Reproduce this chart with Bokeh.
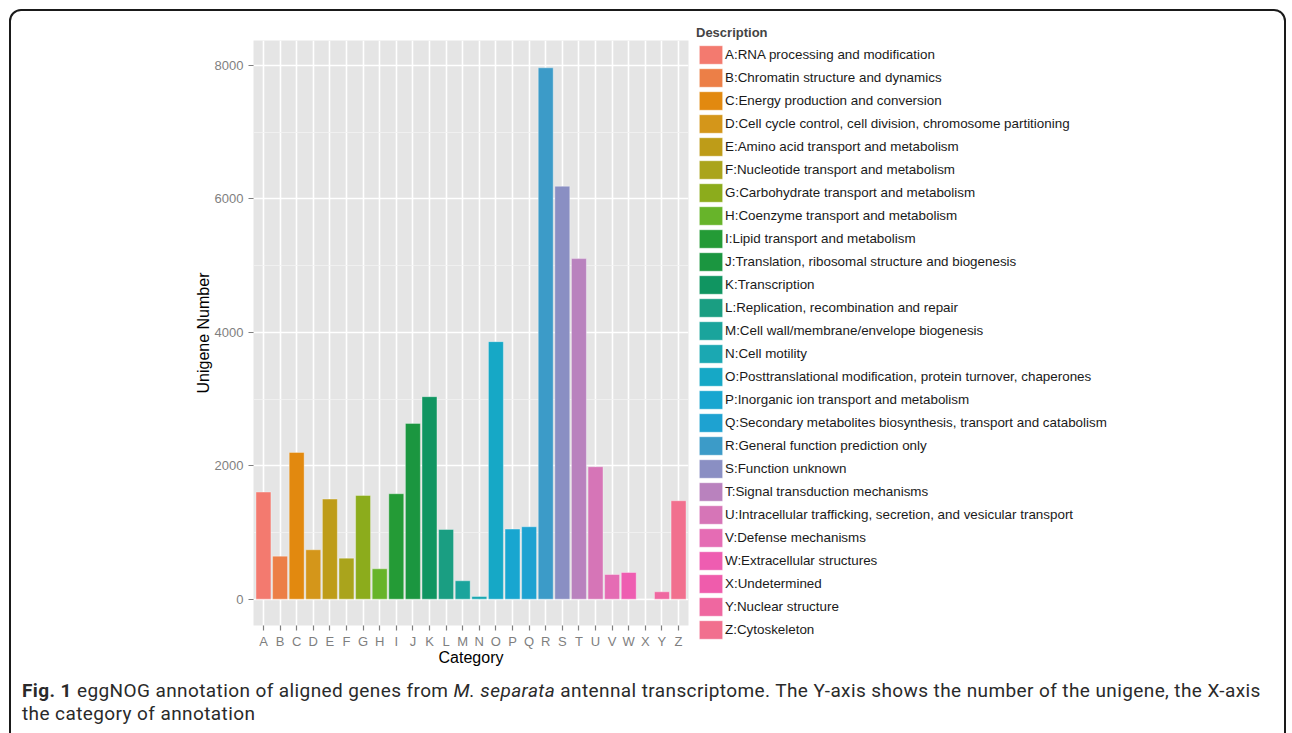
from bokeh.plotting import figure
from bokeh.models import (Range1d, FixedTicker, SingleIntervalTicker, ColumnDataSource,
                          Legend, LegendItem, Div)
from bokeh.layouts import column
from bokeh.embed import file_html
from bokeh.resources import INLINE

# ---------------- data ----------------
categories = list("ABCDEFGHIJKLMNOPQRSTUVWXYZ")
descriptions = [
    "RNA processing and modification",
    "Chromatin structure and dynamics",
    "Energy production and conversion",
    "Cell cycle control, cell division, chromosome partitioning",
    "Amino acid transport and metabolism",
    "Nucleotide transport and metabolism",
    "Carbohydrate transport and metabolism",
    "Coenzyme transport and metabolism",
    "Lipid transport and metabolism",
    "Translation, ribosomal structure and biogenesis",
    "Transcription",
    "Replication, recombination and repair",
    "Cell wall/membrane/envelope biogenesis",
    "Cell motility",
    "Posttranslational modification, protein turnover, chaperones",
    "Inorganic ion transport and metabolism",
    "Secondary metabolites biosynthesis, transport and catabolism",
    "General function prediction only",
    "Function unknown",
    "Signal transduction mechanisms",
    "Intracellular trafficking, secretion, and vesicular transport",
    "Defense mechanisms",
    "Extracellular structures",
    "Undetermined",
    "Nuclear structure",
    "Cytoskeleton",
]
counts = [1605, 645, 2200, 740, 1500, 615, 1555, 455, 1580, 2635, 3035, 1045, 275, 40,
          3860, 1050, 1085, 7965, 6190, 5105, 1985, 370, 400, 0, 110, 1475]

# palette as it appears in the printed figure
palette = ["#F37A6F", "#EC7F47", "#E2890F", "#D4961A", "#BE9C18", "#AAA41C", "#8CAC1C",
           "#67B42A", "#249B36", "#1B9640", "#109561", "#1A9E82", "#1AA49C", "#1BA8B2",
           "#16A8C6", "#18A6D0", "#1EA2D1", "#3C9BC8", "#8A8FC3", "#B982BE", "#D675B7",
           "#E56CB4", "#EE5DB1", "#EF5CAC", "#EF67A0", "#F1708E"]

n = len(categories)
xpos = list(range(1, n + 1))
labels = [f"{c}:{d}" for c, d in zip(categories, descriptions)]
src = ColumnDataSource(dict(x=xpos, top=counts, color=palette, label=labels))

FONT = "Liberation Sans"

# ---------------- main chart ----------------
p = figure(frame_width=435, frame_height=585, output_backend="svg", toolbar_location=None,
           x_range=Range1d(0.4, n + 0.6), y_range=Range1d(-395, 8375),
           min_border_left=242, min_border_right=5, min_border_top=29,
           min_border_bottom=51, background_fill_color="#E5E5E5",
           border_fill_color="white", outline_line_color=None)

r = p.vbar(x="x", top="top", bottom=0, width=0.9, source=src, fill_color="color",
           line_color="white", line_alpha=0.35, line_width=1)

p.xaxis.ticker = FixedTicker(ticks=xpos)
p.xaxis.major_label_overrides = {x: c for x, c in zip(xpos, categories)}
p.yaxis.ticker = SingleIntervalTicker(interval=2000, num_minor_ticks=2)
for ax in (p.xaxis[0], p.yaxis[0]):
    ax.axis_line_color = None
    ax.major_tick_line_color = "#7F7F7F"
    ax.major_tick_line_width = 1.2
    ax.major_tick_out = 5
    ax.major_tick_in = 0
    ax.minor_tick_line_color = None
    ax.major_label_text_font = FONT
    ax.major_label_text_font_size = "13px"
    ax.major_label_text_color = "#7F7F7F"
    ax.axis_label_text_font = FONT
    ax.axis_label_text_font_size = "16px"
    ax.axis_label_text_font_style = "normal"
    ax.axis_label_text_color = "black"
p.xaxis.axis_label = "Category"
p.yaxis.axis_label = "Unigene Number"
p.xaxis.major_label_standoff = 3
p.xaxis.axis_label_standoff = -3
p.yaxis.major_label_standoff = 5
p.yaxis.axis_label_standoff = 0

p.xgrid.grid_line_color = "white"
p.xgrid.grid_line_width = 1.6
p.ygrid.grid_line_color = "white"
p.ygrid.grid_line_width = 1.6
p.ygrid.minor_grid_line_color = "#F2F2F2"
p.ygrid.minor_grid_line_width = 0.8

# ---------------- legend (right side panel) ----------------
items = [LegendItem(label=lab, renderers=[r], index=i) for i, lab in enumerate(labels)]
legend = Legend(items=items, location=(8, -16), title="Description",
                title_text_font=FONT, title_text_font_size="13px",
                title_text_font_style="bold", title_standoff=3,
                label_text_font=FONT, label_text_font_size="13.4px",
                label_text_color="#1A1A1A", glyph_width=29, glyph_height=23,
                label_height=23, spacing=0, label_standoff=0, padding=0, margin=0,
                border_line_color=None, background_fill_alpha=0)
p.add_layout(legend, "right")

caption = Div(
    text=('<div style="position:fixed; left:9px; top:9px; width:1277px; height:760px; '
          'border:2px solid #1A1A1A; border-radius:12px; pointer-events:none;"></div>'
          '<div style="padding-left:11px; padding-top:3px; font-family:Roboto, \'Liberation Sans\', sans-serif; '
          'font-size:19px; letter-spacing:0.4px; line-height:23px; color:#2A2A2A; white-space:nowrap;">'
          '<b>Fig. 1</b> eggNOG annotation of aligned genes from <i>M. separata</i> antennal transcriptome. '
          'The Y-axis shows the number of the unigene, the X-axis<br>the category of annotation</div>'),
    width=1277, height=50, margin=0)

layout = column(p, caption, styles={"margin-left": "11px", "margin-top": "11px"})

open("out.html", "w").write(file_html(layout, INLINE))
